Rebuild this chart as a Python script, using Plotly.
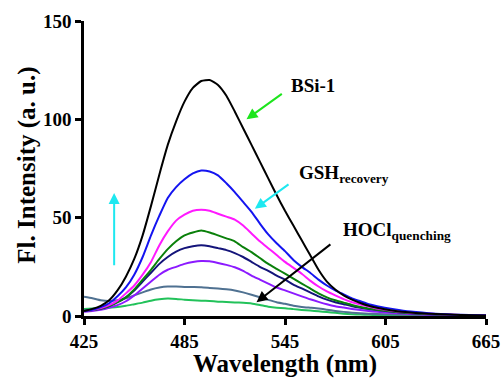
import plotly.graph_objects as go

wavelength = [425, 430, 435, 440, 445, 450, 455, 460, 465, 470, 475, 480, 485, 490, 495,
              500, 505, 510, 515, 520, 525, 530, 535, 540, 545, 550, 555, 560, 565, 570,
              575, 580, 585, 590, 595, 600, 610, 620, 635, 650, 665]

light_green = [3.6, 3.8, 4.0, 4.3, 4.6, 5.2, 6.0, 6.8, 7.8, 8.5, 8.9, 8.7, 8.3, 8.0, 7.8,
               7.6, 7.3, 7.1, 6.9, 6.7, 6.4, 5.6, 4.7, 4.2, 4.0, 3.5, 3.1, 2.8, 2.4, 2.0,
               1.6, 1.2, 0.9, 0.7, 0.6, 0.5, 0.4, 0.3, 0.2, 0.2, 0.1]
steel = [9.8, 9.0, 8.0, 7.6, 8.0, 9.0, 10.5, 12.0, 13.5, 14.5, 15.0, 15.0, 14.8, 14.7, 14.6,
         14.3, 14.0, 13.6, 13.0, 12.0, 10.8, 9.5, 8.2, 7.0, 6.2, 5.2, 4.6, 4.2, 3.8, 3.2,
         2.6, 2.1, 1.7, 1.4, 1.2, 1.0, 0.8, 0.6, 0.4, 0.3, 0.2]
purple = [2.2, 2.6, 3.2, 4.2, 5.5, 7.5, 10.5, 14.0, 17.5, 21.0, 23.5, 25.0, 26.5, 27.5, 28.0,
          27.8, 27.0, 26.0, 24.8, 23.0, 20.5, 18.5, 16.5, 14.5, 13.0, 11.5, 10.0, 8.5, 7.2, 6.0,
          5.0, 4.3, 3.6, 3.0, 2.5, 2.1, 1.5, 1.0, 0.6, 0.3, 0.2]
navy = [2.5, 3.0, 3.7, 5.0, 7.0, 9.5, 13.0, 17.5, 22.0, 26.5, 30.0, 32.7, 34.5, 35.5, 36.0,
        35.5, 34.5, 33.5, 32.0, 30.0, 27.5, 25.0, 23.0, 20.5, 18.5, 16.0, 14.0, 12.0, 10.0, 8.3,
        7.0, 6.0, 5.0, 4.2, 3.5, 3.0, 2.1, 1.4, 0.8, 0.4, 0.3]
green = [2.5, 3.0, 3.8, 5.0, 7.0, 9.5, 13.5, 18.5, 23.5, 29.0, 34.0, 38.0, 41.0, 42.5, 43.5,
         42.5, 41.0, 39.5, 38.0, 35.0, 32.5, 29.5, 26.5, 24.0, 21.5, 19.0, 16.5, 14.0, 11.5, 9.5,
         8.0, 6.8, 5.6, 4.6, 3.8, 3.2, 2.2, 1.5, 0.9, 0.5, 0.3]
magenta = [2.5, 3.0, 4.0, 5.5, 7.8, 11.5, 15.5, 21.0, 27.5, 36.0, 43.0, 48.5, 51.5, 53.5, 54.0,
           53.5, 52.0, 50.5, 49.0, 46.0, 42.0, 38.0, 34.5, 31.0, 27.5, 24.5, 21.5, 18.0, 15.0, 12.5,
           10.5, 8.6, 7.0, 5.8, 4.8, 3.8, 2.6, 1.8, 1.0, 0.5, 0.3]
blue = [2.5, 3.2, 4.5, 6.5, 10.0, 14.5, 21.0, 30.0, 41.0, 51.0, 60.0, 65.5, 69.5, 72.5, 74.0,
        73.5, 71.5, 67.5, 63.0, 58.0, 53.0, 47.0, 41.5, 37.0, 33.0, 28.5, 25.0, 22.0, 18.5, 15.5,
        13.0, 11.0, 9.0, 7.5, 6.0, 5.0, 3.5, 2.3, 1.2, 0.6, 0.3]
black = [2.5, 3.6, 5.2, 8.0, 13.0, 20.0, 29.0, 41.0, 56.0, 72.0, 87.0, 99.0, 109.0, 116.0, 119.5,
         120.0, 117.5, 112.0, 104.0, 95.5, 87.0, 78.5, 70.0, 61.5, 53.5, 46.0, 38.5, 31.0, 23.5, 17.5,
         13.5, 10.5, 8.3, 6.6, 5.2, 4.2, 2.7, 1.8, 1.0, 0.5, 0.3]

series = [
    ("light green", light_green, "#22c25a"),
    ("steel", steel, "#4f7191"),
    ("purple", purple, "#8c1aff"),
    ("navy", navy, "#14147a"),
    ("green", green, "#0a800a"),
    ("magenta", magenta, "#ff19ff"),
    ("blue", blue, "#1414f0"),
    ("BSi-1", black, "#000000"),
]

x_ticks = [425, 485, 545, 605, 665]
y_ticks = [0, 50, 100, 150]
x_title = "Wavelength (nm)"
y_title = "Fl. Intensity (a. u.)"

FONT = "Liberation Serif"

fig = go.Figure()
for name, vals, col in series:
    fig.add_trace(go.Scatter(x=wavelength, y=vals, mode="lines", name=name,
                             line=dict(color=col, width=2, shape="spline", smoothing=0.5),
                             showlegend=False))

arrows = [
    # tip x, tip y, tail x, tail y, color
    (443, 62.5, 443, 25, "#1ee8f0"),
    (522, 100, 544, 113.5, "#1de51d"),
    (527, 54.5, 548, 67.5, "#1ee8f0"),
    (528, 7, 573, 37, "#000000"),
]
for tx, ty, ax, ay, col in arrows:
    fig.add_annotation(x=tx, y=ty, ax=ax, ay=ay, xref="x", yref="y", axref="x", ayref="y",
                       text="", showarrow=True, arrowhead=2, arrowsize=1.1, arrowwidth=2,
                       arrowcolor=col)

labels = [
    (547.5, 117, "<b>BSi-1</b>"),
    (552, 72, "<b>GSH<sub>recovery</sub></b>"),
    (578.5, 43, "<b>HOCl<sub>quenching</sub></b>"),
]
for lx, ly, txt in labels:
    fig.add_annotation(x=lx, y=ly, xref="x", yref="y", text=txt, showarrow=False,
                       xanchor="left", yanchor="middle",
                       font=dict(family=FONT, size=19, color="black"))

# axis titles as paper-referenced annotations
fig.add_annotation(x=0.5, y=-0.163, xref="paper", yref="paper", text=f"<b>{x_title}</b>",
                   showarrow=False, xanchor="center", yanchor="middle",
                   font=dict(family=FONT, size=25, color="black"))
fig.add_annotation(x=-0.144, y=0.51, xref="paper", yref="paper", text=f"<b>{y_title}</b>",
                   showarrow=False, xanchor="center", yanchor="middle", textangle=-90,
                   font=dict(family=FONT, size=25, color="black"))

axis_common = dict(showgrid=False, zeroline=False, showline=True, linecolor="black",
                   linewidth=2.5, ticks="outside", ticklen=6, tickwidth=2.5, automargin=False,
                   tickcolor="black", tickfont=dict(family=FONT, size=19, color="black"))

fig.update_xaxes(range=[425, 665], tickvals=x_ticks,
                 ticktext=[f"<b>{v}</b>" for v in x_ticks], **axis_common)
fig.update_yaxes(range=[0, 150], tickvals=y_ticks,
                 ticktext=[f"<b>{v}</b>" for v in y_ticks], **axis_common)

fig.update_layout(width=502, height=378, margin=dict(l=84, r=16, t=21, b=62),
                  paper_bgcolor="white", plot_bgcolor="white")

fig.write_html("out.html")
